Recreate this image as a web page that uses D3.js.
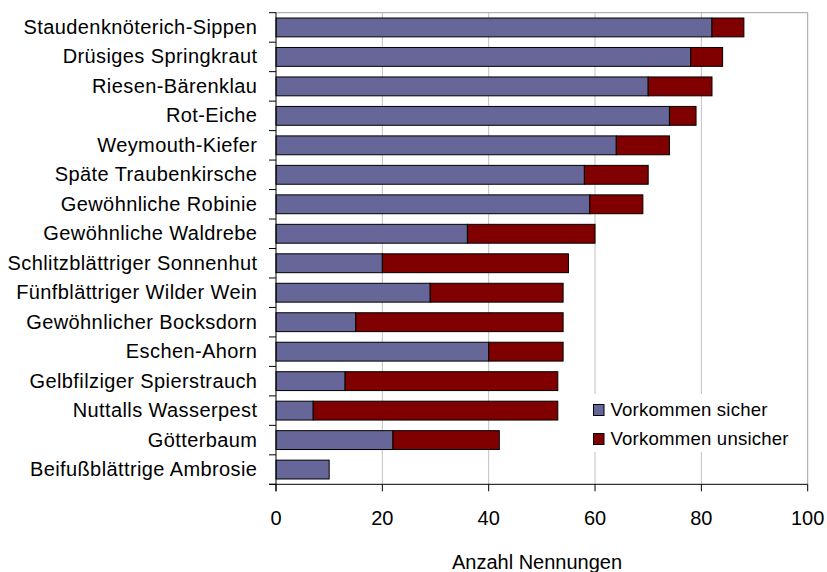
<!DOCTYPE html>
<html>
<head>
<meta charset="utf-8">
<script src="https://cdn.jsdelivr.net/npm/d3@7"></script>
<style>
  html, body { margin: 0; padding: 0; background: #fff; }
  svg { display: block; font-family: "Liberation Sans", Arial, sans-serif; }
</style>
</head>
<body>
<svg id="chart" width="827" height="572"></svg>
<script>
const categories = [
  "Staudenknöterich-Sippen",
  "Drüsiges Springkraut",
  "Riesen-Bärenklau",
  "Rot-Eiche",
  "Weymouth-Kiefer",
  "Späte Traubenkirsche",
  "Gewöhnliche Robinie",
  "Gewöhnliche Waldrebe",
  "Schlitzblättriger Sonnenhut",
  "Fünfblättriger Wilder Wein",
  "Gewöhnlicher Bocksdorn",
  "Eschen-Ahorn",
  "Gelbfilziger Spierstrauch",
  "Nuttalls Wasserpest",
  "Götterbaum",
  "Beifußblättrige Ambrosie"
];
const sicher   = [82, 78, 70, 74, 64, 58, 59, 36, 20, 29, 15, 40, 13, 7, 22, 10];
const unsicher = [ 6,  6, 12,  5, 10, 12, 10, 24, 35, 25, 39, 14, 40, 46, 20, 0];
const seriesNames = ["Vorkommen sicher", "Vorkommen unsicher"];
const seriesColors = ["#666699", "#800000"];
const xTicks = [0, 20, 40, 60, 80, 100];
const xTitle = "Anzahl Nennungen";

(function () {
const svg = d3.select("#chart");
const pLeft = 276, pRight = 807.7, pTop = 12.7, pBottom = 484.3;

const x = d3.scaleLinear().domain([0, 100]).range([pLeft, pRight]);
const y = d3.scaleBand().domain(categories).range([pTop, pBottom])
  .paddingInner(0.36).paddingOuter(0.18);

// gridlines
svg.append("g").selectAll("line")
  .data(xTicks.filter(t => t > 0 && t < 100))
  .join("line")
  .attr("x1", d => x(d)).attr("x2", d => x(d))
  .attr("y1", pTop).attr("y2", pBottom)
  .attr("stroke", "#c0c0c0").attr("stroke-width", 1);

// plot border top & right
svg.append("path")
  .attr("d", `M${pLeft},${pTop}H${x(100)}V${pBottom}`)
  .attr("fill", "none").attr("stroke", "#a0a0a0").attr("stroke-width", 1);

// stacked data
const stackData = categories.map((c, i) => ({ cat: c, sicher: sicher[i], unsicher: unsicher[i] }));
const stack = d3.stack().keys(["sicher", "unsicher"])(stackData);

svg.append("g").selectAll("g")
  .data(stack)
  .join("g")
  .attr("fill", (d, i) => seriesColors[i])
  .selectAll("rect")
  .data(d => d.filter(s => s[1] - s[0] > 0))
  .join("rect")
  .attr("x", d => x(d[0]))
  .attr("y", d => y(d.data.cat))
  .attr("width", d => x(d[1]) - x(d[0]))
  .attr("height", y.bandwidth())
  .attr("stroke", "#000")
  .attr("stroke-width", 1);

// legend background
svg.append("rect")
  .attr("x", 585).attr("y", 394).attr("width", 215).attr("height", 58)
  .attr("fill", "#fff");

// legend
const legend = svg.append("g");
seriesNames.forEach((name, i) => {
  const ly = 404 + i * 29;
  legend.append("rect")
    .attr("x", 593.5).attr("y", ly + 0.5).attr("width", 10.5).attr("height", 11)
    .attr("fill", seriesColors[i]).attr("stroke", "#000").attr("stroke-width", 1);
  legend.append("text")
    .attr("x", 610.5).attr("y", ly + 11.7)
    .attr("font-size", "18.6px").attr("letter-spacing", "0.2px").attr("fill", "#000")
    .text(name);
});

// left axis
svg.append("line")
  .attr("x1", pLeft).attr("x2", pLeft).attr("y1", pTop).attr("y2", pBottom + 7)
  .attr("stroke", "#000").attr("stroke-width", 1);
const boundaries = categories.map(c => y(c) - y.step() * y.paddingInner() / 2);
boundaries.push(pBottom);
svg.append("g").selectAll("line")
  .data(boundaries)
  .join("line")
  .attr("x1", pLeft - 7).attr("x2", pLeft)
  .attr("y1", d => d).attr("y2", d => d)
  .attr("stroke", "#000").attr("stroke-width", 1);

// category labels
svg.append("g").selectAll("text")
  .data(categories)
  .join("text")
  .attr("x", 257.4)
  .attr("y", d => y(d) + y.bandwidth() / 2 + 6.5)
  .attr("text-anchor", "end")
  .attr("font-size", "20px")
  .attr("letter-spacing", "0.4px")
  .attr("fill", "#000")
  .text(d => d);

// bottom axis
svg.append("line")
  .attr("x1", pLeft - 7).attr("x2", x(100)).attr("y1", pBottom).attr("y2", pBottom)
  .attr("stroke", "#000").attr("stroke-width", 1);
svg.append("g").selectAll("line")
  .data(xTicks)
  .join("line")
  .attr("x1", d => x(d)).attr("x2", d => x(d))
  .attr("y1", pBottom).attr("y2", pBottom + 7)
  .attr("stroke", "#000").attr("stroke-width", 1);
svg.append("g").selectAll("text")
  .data(xTicks)
  .join("text")
  .attr("x", d => x(d))
  .attr("y", 525)
  .attr("text-anchor", "middle")
  .attr("font-size", "20px")
  .attr("fill", "#000")
  .text(d => d);

// axis title
svg.append("text")
  .attr("x", 537).attr("y", 569)
  .attr("text-anchor", "middle")
  .attr("font-size", "20px")
  .attr("fill", "#000")
  .text(xTitle);
})();
</script>
</body>
</html>
